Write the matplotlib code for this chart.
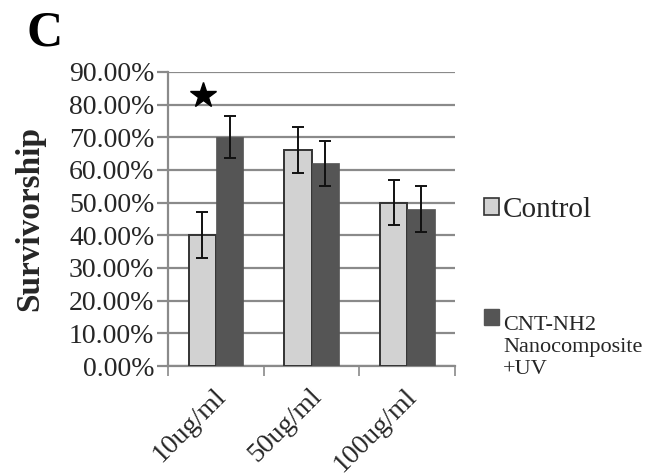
import matplotlib
matplotlib.use("Agg")
import matplotlib.pyplot as plt
import matplotlib.transforms as mtransforms
import numpy as np
from matplotlib.legend_handler import HandlerPatch
from matplotlib.patches import Patch, Rectangle
from matplotlib.ticker import FuncFormatter, FixedLocator

plt.rcParams["font.family"] = ["Liberation Serif", "DejaVu Serif"]

# survivorship values (fraction)
doses       = ["10ug/ml", "50ug/ml", "100ug/ml"]
control     = [0.40, 0.66, 0.50]
control_err = [0.07, 0.07, 0.07]
cnt_uv      = [0.70, 0.62, 0.48]
cnt_uv_err  = [0.065, 0.07, 0.07]
star_pos    = (0, 0.83)   # significance marker: category index, height
series_names = ["Control", "CNT-NH2\nNanocomposite\n+UV"]

LIGHT = "#d2d2d2"
DARK  = "#555555"
GRID  = "#8a8a8a"
INK   = "#262626"

fig = plt.figure(figsize=(6.52, 4.76), dpi=100)
ax = fig.add_axes([0.258, 0.231, 0.44, 0.618])

x = np.arange(len(doses))
w = 0.285
err_kw = dict(ecolor="#111111", elinewidth=1.4, capsize=4, capthick=1.4)
ax.bar(x - w / 2, control, w, yerr=control_err, color=LIGHT,
       edgecolor="#333333", linewidth=1.4, error_kw=err_kw, zorder=3)
ax.bar(x + w / 2, cnt_uv, w, yerr=cnt_uv_err, color=DARK,
       edgecolor=DARK, linewidth=0.5, error_kw=err_kw, zorder=3)

ax.plot(star_pos[0] - 0.14, star_pos[1], marker="*", markersize=19,
        color="black", zorder=4)

ax.set_xlim(-0.5, len(doses) - 0.5)
ax.set_ylim(0, 0.9)
ax.set_yticks(np.arange(0, 0.91, 0.1))
ax.yaxis.set_major_formatter(FuncFormatter(lambda v, _: f"{v * 100:.2f}%"))
ax.grid(axis="y", color=GRID, linewidth=1.6, zorder=0)
ax.tick_params(axis="y", length=8, width=1.6, color=GRID,
               labelsize=20, labelcolor=INK, pad=2)

# category ticks between groups, labels under groups
ax.xaxis.set_major_locator(FixedLocator(np.arange(-0.5, len(doses), 1.0)))
ax.xaxis.set_major_formatter(FuncFormatter(lambda v, _: ""))
ax.set_xticks(x, doses, minor=True)
ax.tick_params(axis="x", which="major", length=7, width=1.2, color=GRID)
ax.tick_params(axis="x", which="minor", length=0, labelsize=20,
               labelcolor=INK, pad=13)
shift = mtransforms.ScaledTranslation(-3 / 100, 0, fig.dpi_scale_trans)
for lbl in ax.get_xticklabels(minor=True):
    lbl.set_rotation(45)
    lbl.set_ha("right")
    lbl.set_va("top")
    lbl.set_rotation_mode("anchor")
    lbl.set_transform(lbl.get_transform() + shift)

for side in ["top", "right"]:
    ax.spines[side].set_visible(False)
for side in ["left", "bottom"]:
    ax.spines[side].set_color(GRID)
    ax.spines[side].set_linewidth(1.6)

ax.set_ylabel("Survivorship", fontsize=24, fontweight="bold", color=INK,
              labelpad=17)


def top_line_patch(legend, orig_handle, xdescent, ydescent, width, height,
                   fontsize):
    # put the swatch beside the first line of a multi-line label
    return Rectangle((-xdescent, -ydescent + 19.5), width, height)


handles = [Patch(facecolor=LIGHT, edgecolor="#333333", linewidth=1.2),
           Patch(facecolor=DARK, edgecolor=DARK)]
leg = ax.legend(handles, series_names, loc="upper left",
                bbox_to_anchor=(1.06, 0.615), frameon=False, fontsize=21,
                handlelength=0.5, handleheight=0.5, handletextpad=0.15,
                labelspacing=3.2, borderaxespad=0,
                handler_map={handles[1]: HandlerPatch(patch_func=top_line_patch)})
for t in leg.get_texts():
    t.set_color(INK)
leg.get_texts()[1].set_fontsize(16)

fig.text(0.04, 0.905, "C", fontsize=36, fontweight="bold", color="black")

fig.savefig("out.png", dpi=100)
